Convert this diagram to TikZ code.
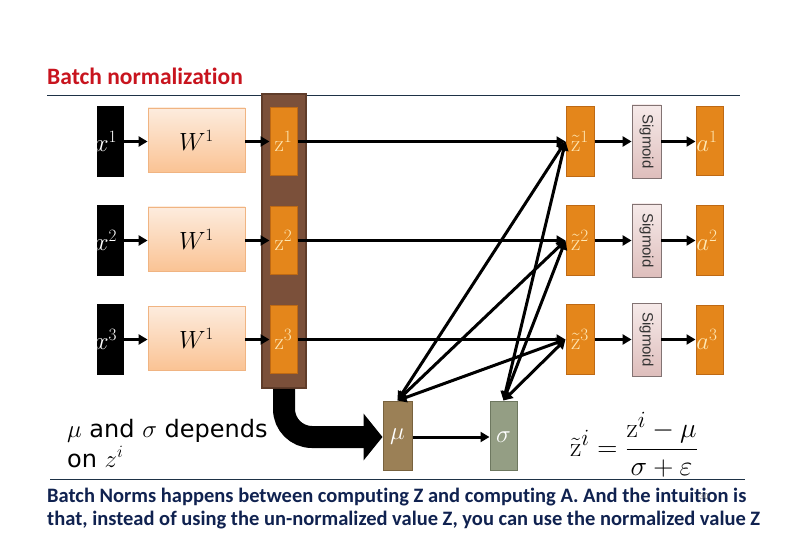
\documentclass[tikz,border=0pt]{standalone}
\usepackage{fontspec}
\usetikzlibrary{arrows.meta}
\newfontfamily\carlito[Ligatures=NoCommon]{Carlito}
\newfontfamily\dejavu{DejaVu Sans}
\newfontfamily\arialf{Liberation Sans}
\definecolor{titlered}{RGB}{200,20,30}
\definecolor{navy}{RGB}{16,34,80}
\definecolor{rulec}{RGB}{30,50,70}
\definecolor{wtop}{RGB}{253,236,222}
\definecolor{wbot}{RGB}{250,195,148}
\definecolor{wline}{RGB}{240,180,130}
\definecolor{panelc}{RGB}{123,80,58}
\definecolor{paneld}{RGB}{95,60,42}
\definecolor{orangec}{RGB}{228,134,27}
\definecolor{oranged}{RGB}{190,105,20}
\definecolor{sigtop}{RGB}{246,234,233}
\definecolor{sigbot}{RGB}{222,190,188}
\definecolor{sigline}{RGB}{130,115,115}
\definecolor{labc}{RGB}{255,232,180}
\definecolor{muc}{RGB}{155,128,86}
\definecolor{mud}{RGB}{120,98,62}
\definecolor{sgc}{RGB}{148,158,132}
\definecolor{sgd}{RGB}{110,120,96}
\begin{document}
\begin{tikzpicture}[x=1pt,y=-1pt,
  xblk/.style={fill=black, minimum width=27pt, minimum height=71pt, inner sep=0pt},
  wblk/.style={top color=wtop, bottom color=wbot, draw=wline, line width=0.8pt, minimum width=97pt, minimum height=64pt, inner sep=0pt, font=\fontsize{25}{25}\selectfont},
  panelblk/.style={fill=panelc, draw=paneld, line width=1.5pt, minimum width=44pt, minimum height=294pt, inner sep=0pt},
  oblk/.style={fill=orangec, draw=oranged, line width=1pt, minimum width=27pt, minimum height=68pt, inner sep=0pt},
  sblk/.style={top color=sigtop, bottom color=sigbot, draw=sigline, line width=0.8pt, minimum width=29pt, minimum height=73pt, inner sep=0pt},
  lbl/.style={font=\fontsize{23}{23}\selectfont, inner sep=0pt},
  conn/.style={line width=3pt, -{Triangle[length=9pt,width=10pt]}},
  biconn/.style={line width=3pt, {Triangle[length=9pt,width=10pt]}-{Triangle[length=9pt,width=10pt]}},
]
\useasboundingbox (0,0) rectangle (792,540);
\fill[white] (0,0) rectangle (792,540);

% title and rules
\node[anchor=base west, inner sep=0pt, text=titlered, font=\carlito\bfseries\fontsize{23.5}{23.5}\selectfont] (title) at (47,85) {Batch normalization};
\draw[rulec, line width=1pt] (47,96) -- (740,96);
\draw[rulec, line width=1pt] (50,479) -- (745,479);

% panel
\node[panelblk] (panel) at (284,241) {};

\foreach \i/\y in {1/141.5,2/240.5,3/339.5} {
  \node[xblk] (x\i) at (110.5,\y) {};
  \node[lbl, text=white] (xl\i) at (106,\y) {$x^{\i}$};
  \node[wblk] (w\i) at (196.5,\y-1.5) {$W^1$};
  \node[oblk] (z\i) at (283.5,\y) {};
  \node[lbl, text=labc] (zl\i) at (283.5,\y) {$\mathrm{z}^{\i}$};
  \node[oblk, minimum width=28pt, minimum height=70pt] (zt\i) at (580,\y) {};
  \node[lbl, text=labc] (ztl\i) at (580,\y) {$\tilde{\mathrm{z}}^{\i}$};
  \node[sblk] (s\i) at (646.5,\y) {};
  \node[rotate=-90, inner sep=0pt, font=\arialf\fontsize{15}{15}\selectfont, text=black!80] (sl\i) at (646.5,\y) {Sigmoid};
  \node[oblk, minimum height=69pt] (a\i) at (709.5,\y) {};
  \node[lbl, text=labc] (al\i) at (707,\y) {$a^{\i}$};
  \draw[conn] (x\i.east) -- (w\i.west |- x\i.east);
  \draw[conn] (w\i.east |- z\i.west) -- (z\i.west);
  \draw[conn] (z\i.east) -- (zt\i.west);
  \draw[conn] (zt\i.east) -- (s\i.west);
  \draw[conn] (s\i.east) -- (a\i.west);
}

% mu and sigma
\node[fill=muc, draw=mud, line width=1pt, minimum width=29pt, minimum height=69pt, inner sep=0pt] (mu) at (397.5,435.5) {};
\node[lbl, text=white] (mul) at (397.5,437) {$\mu$};
\node[fill=sgc, draw=sgd, line width=1pt, minimum width=27pt, minimum height=69pt, inner sep=0pt] (sg) at (503.5,435.5) {};
\node[lbl, text=white] (sgl) at (503.5,437) {$\sigma$};
\draw[conn] (mu.east |- 0,437) -- (sg.west |- 0,437);

\foreach \i in {1,2,3} {
  \draw[biconn] (mu.north) -- (zt\i.west);
  \draw[biconn] (sg.north) -- (zt\i.west);
}

% big arrow
\draw[line width=22pt, rounded corners=28pt, -{Triangle[length=19pt,width=46pt]}] (panel.south) -- (284,437) -- (mu.west |- 0,437);

% texts
\node[anchor=base west, inner sep=0pt, font=\dejavu\fontsize{24}{24}\selectfont] (dep1) at (67,437) {$\mu$ and $\sigma$ depends};
\node[anchor=base west, inner sep=0pt, font=\dejavu\fontsize{24}{24}\selectfont] (dep2) at (67,467) {on $z^i$};

\node[inner sep=0pt, font=\fontsize{24.88}{30}\selectfont] (formula) at (634,445) {\scalebox{1.12}{$\displaystyle \tilde{\mathrm{z}}^i=\frac{\mathrm{z}^i-\mu}{\sigma+\varepsilon}$}};

\node[anchor=base west, inner sep=0pt, text=navy, font=\carlito\bfseries\fontsize{20.5}{20.5}\selectfont] (b1) at (47,502) {Batch Norms happens between computing Z and computing A. And the intuition is};
\node[anchor=base west, inner sep=0pt, text=navy, font=\carlito\bfseries\fontsize{20.5}{20.5}\selectfont] (b2) at (47,525) {that, instead of using the un-normalized value Z, you can use the normalized value Z};
\node[inner sep=0pt, text=gray, font=\carlito\fontsize{9}{9}\selectfont] (pg) at (704,497) {30};
\end{tikzpicture}
\end{document}
